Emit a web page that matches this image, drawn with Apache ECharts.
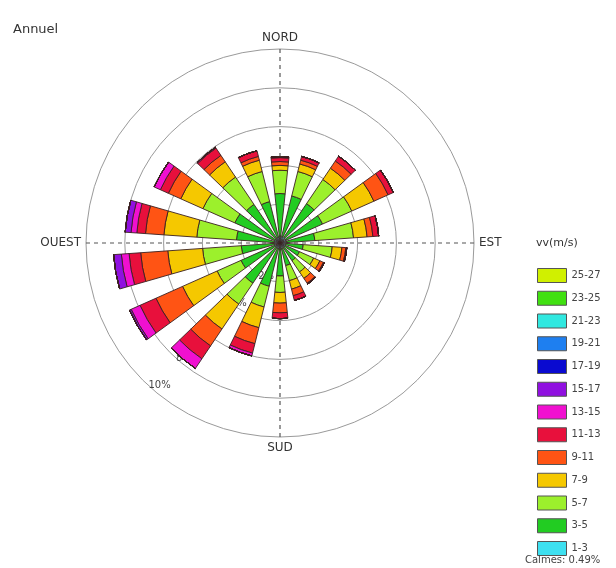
<!DOCTYPE html>
<html>
<head>
<meta charset="utf-8">
<script src="https://cdn.jsdelivr.net/npm/echarts@6/dist/echarts.min.js"></script>
<style>
html,body{margin:0;padding:0;background:#fff;}
#chart{width:616px;height:568px;}
</style>
</head>
<body>
<div id="chart"></div>
<script>
// Directions (compass degrees, 20° sectors, clockwise from North)
const directions = ['0','20','40','60','80','100','120','140','160','180','200','220','240','260','280','300','320','340'];
const compassLabels = ['NORD','EST','SUD','OUEST'];
const radiusTicks = [2,4,6,8,10];
const calmes = 0.49;

// Speed classes (inner -> outer)
const speedClasses = ['1-3','3-5','5-7','7-9','9-11','11-13','13-15','15-17','17-19','19-21','21-23','23-25','25-27'];
const classColors = ['#3ee0f0','#22cc22','#9cf02c','#f5c800','#ff5414','#e8103c','#f010d0','#9010e0','#0a0ad0','#1e7ff0','#30e8e0','#40e010','#d0f000'];

// Frequencies (%) per direction for each speed class
const v1_3   = [0.35,0.35,0.35,0.35,0.35,0.3,0.3,0.3,0.3,0.3,0.3,0.3,0.3,0.3,0.3,0.3,0.3,0.3];
const v3_5   = [2.2,2.15,2.1,2.05,1.45,0.9,0.8,0.8,0.9,1.4,2.0,2.2,1.9,1.7,1.95,2.25,2.1,1.9];
const v5_7   = [1.2,1.3,1.5,1.65,2.0,1.5,0.8,0.7,0.8,0.85,1.1,1.3,1.35,2.0,2.05,1.8,1.7,1.6];
const v7_9   = [0.25,0.4,0.7,1.25,0.7,0.5,0.35,0.4,0.45,0.55,1.1,1.55,1.95,1.8,1.7,1.25,0.95,0.6];
const v9_11  = [0.2,0.2,0.45,0.8,0.3,0.2,0.2,0.3,0.35,0.5,0.85,1.05,1.5,1.4,0.95,0.7,0.4,0.2];
const v11_13 = [0.2,0.2,0.3,0.3,0.3,0.05,0.05,0.05,0.25,0.3,0.5,0.8,0.9,0.6,0.45,0.45,0.45,0.3];
const v13_15 = [0.05,0,0,0,0,0,0,0,0,0,0.15,0.6,0.5,0.4,0.3,0.35,0.05,0];
const v15_17 = [0,0,0,0,0,0,0,0,0,0,0,0,0.1,0.4,0.3,0,0,0];
const v17_19 = [0,0,0,0,0,0,0,0,0,0,0,0,0,0,0,0,0,0];
const v19_21 = [0,0,0,0,0,0,0,0,0,0,0,0,0,0,0,0,0,0];
const v21_23 = [0,0,0,0,0,0,0,0,0,0,0,0,0,0,0,0,0,0];
const v23_25 = [0,0,0,0,0,0,0,0,0,0,0,0,0,0,0,0,0,0];
const v25_27 = [0,0,0,0,0,0,0,0,0,0,0,0,0,0,0,0,0,0];
const classValues = [v1_3,v3_5,v5_7,v7_9,v9_11,v11_13,v13_15,v15_17,v17_19,v19_21,v21_23,v23_25,v25_27];

const chart = echarts.init(document.getElementById('chart'), null, {renderer:'canvas'});
const center = [280, 243];
const R = 194;
const font = 'DejaVu Sans';

const option = {
  animation: false,
  backgroundColor: '#fff',
  textStyle: {fontFamily: font},
  title: [
    {text: 'Annuel', left: 8, top: 18, textStyle: {fontFamily: font, fontSize: 13, fontWeight: 'normal', color: '#333'}},
    {text: 'vv(m/s)', left: 531, top: 233, textStyle: {fontFamily: font, fontSize: 11, fontWeight: 'normal', color: '#333'}},
    {text: 'Calmes: ' + calmes + '%', left: 525, top: 555, padding: 0, textStyle: {fontFamily: font, fontSize: 10, fontWeight: 'normal', color: '#444'}}
  ],
  legend: {
    orient: 'vertical', left: 537, top: 268, height: 300, padding: 0,
    icon: 'rect',
    itemWidth: 29, itemHeight: 14, itemGap: 7.75,
    data: speedClasses.slice().reverse(),
    selectedMode: false,
    textStyle: {fontFamily: font, fontSize: 10, color: '#444', lineHeight: 14},
    itemStyle: {borderColor: '#555', borderWidth: 1}
  },
  polar: [
    {center: center, radius: R},
    {center: center, radius: R},
    {center: center, radius: R}
  ],
  angleAxis: [
    {polarIndex: 0, type: 'category', data: directions, startAngle: 100, clockwise: true,
     axisLine: {show: false}, axisTick: {show: false}, axisLabel: {show: false}, splitLine: {show: false}},
    {polarIndex: 1, type: 'value', min: 0, max: 360, interval: 90, startAngle: 90, clockwise: true,
     axisLine: {show: false}, axisTick: {show: false},
     axisLabel: {formatter: v => compassLabels[v / 90] || '', fontFamily: font, fontSize: 12, color: '#333', margin: 5},
     splitLine: {show: true, lineStyle: {type: [4, 4], color: '#555', width: 1.2}}},
    {polarIndex: 2, type: 'value', min: 0, max: 360, startAngle: 225, show: false}
  ],
  radiusAxis: [
    {polarIndex: 0, type: 'value', min: 0, max: 10, interval: 2,
     axisLine: {show: false}, axisTick: {show: false}, axisLabel: {show: false},
     splitLine: {show: true, lineStyle: {color: '#9a9a9a', width: 1}}},
    {polarIndex: 1, type: 'value', min: 0, max: 10, show: false},
    {polarIndex: 2, type: 'value', min: 0, max: 10, interval: 2,
     axisLine: {show: false}, axisTick: {show: false}, splitLine: {show: false},
     axisLabel: {formatter: '{value}%', showMinLabel: false, fontFamily: font, fontSize: 10, color: '#444'}}
  ],
  series: speedClasses.map((name, i) => ({
    name: name,
    type: 'bar',
    coordinateSystem: 'polar',
    polarIndex: 0,
    stack: 'vv',
    barCategoryGap: '40%',
    data: classValues[i],
    itemStyle: {color: classColors[i], borderColor: '#3a2020', borderWidth: 0.9}
  }))
};
chart.setOption(option);
</script>
</body>
</html>
